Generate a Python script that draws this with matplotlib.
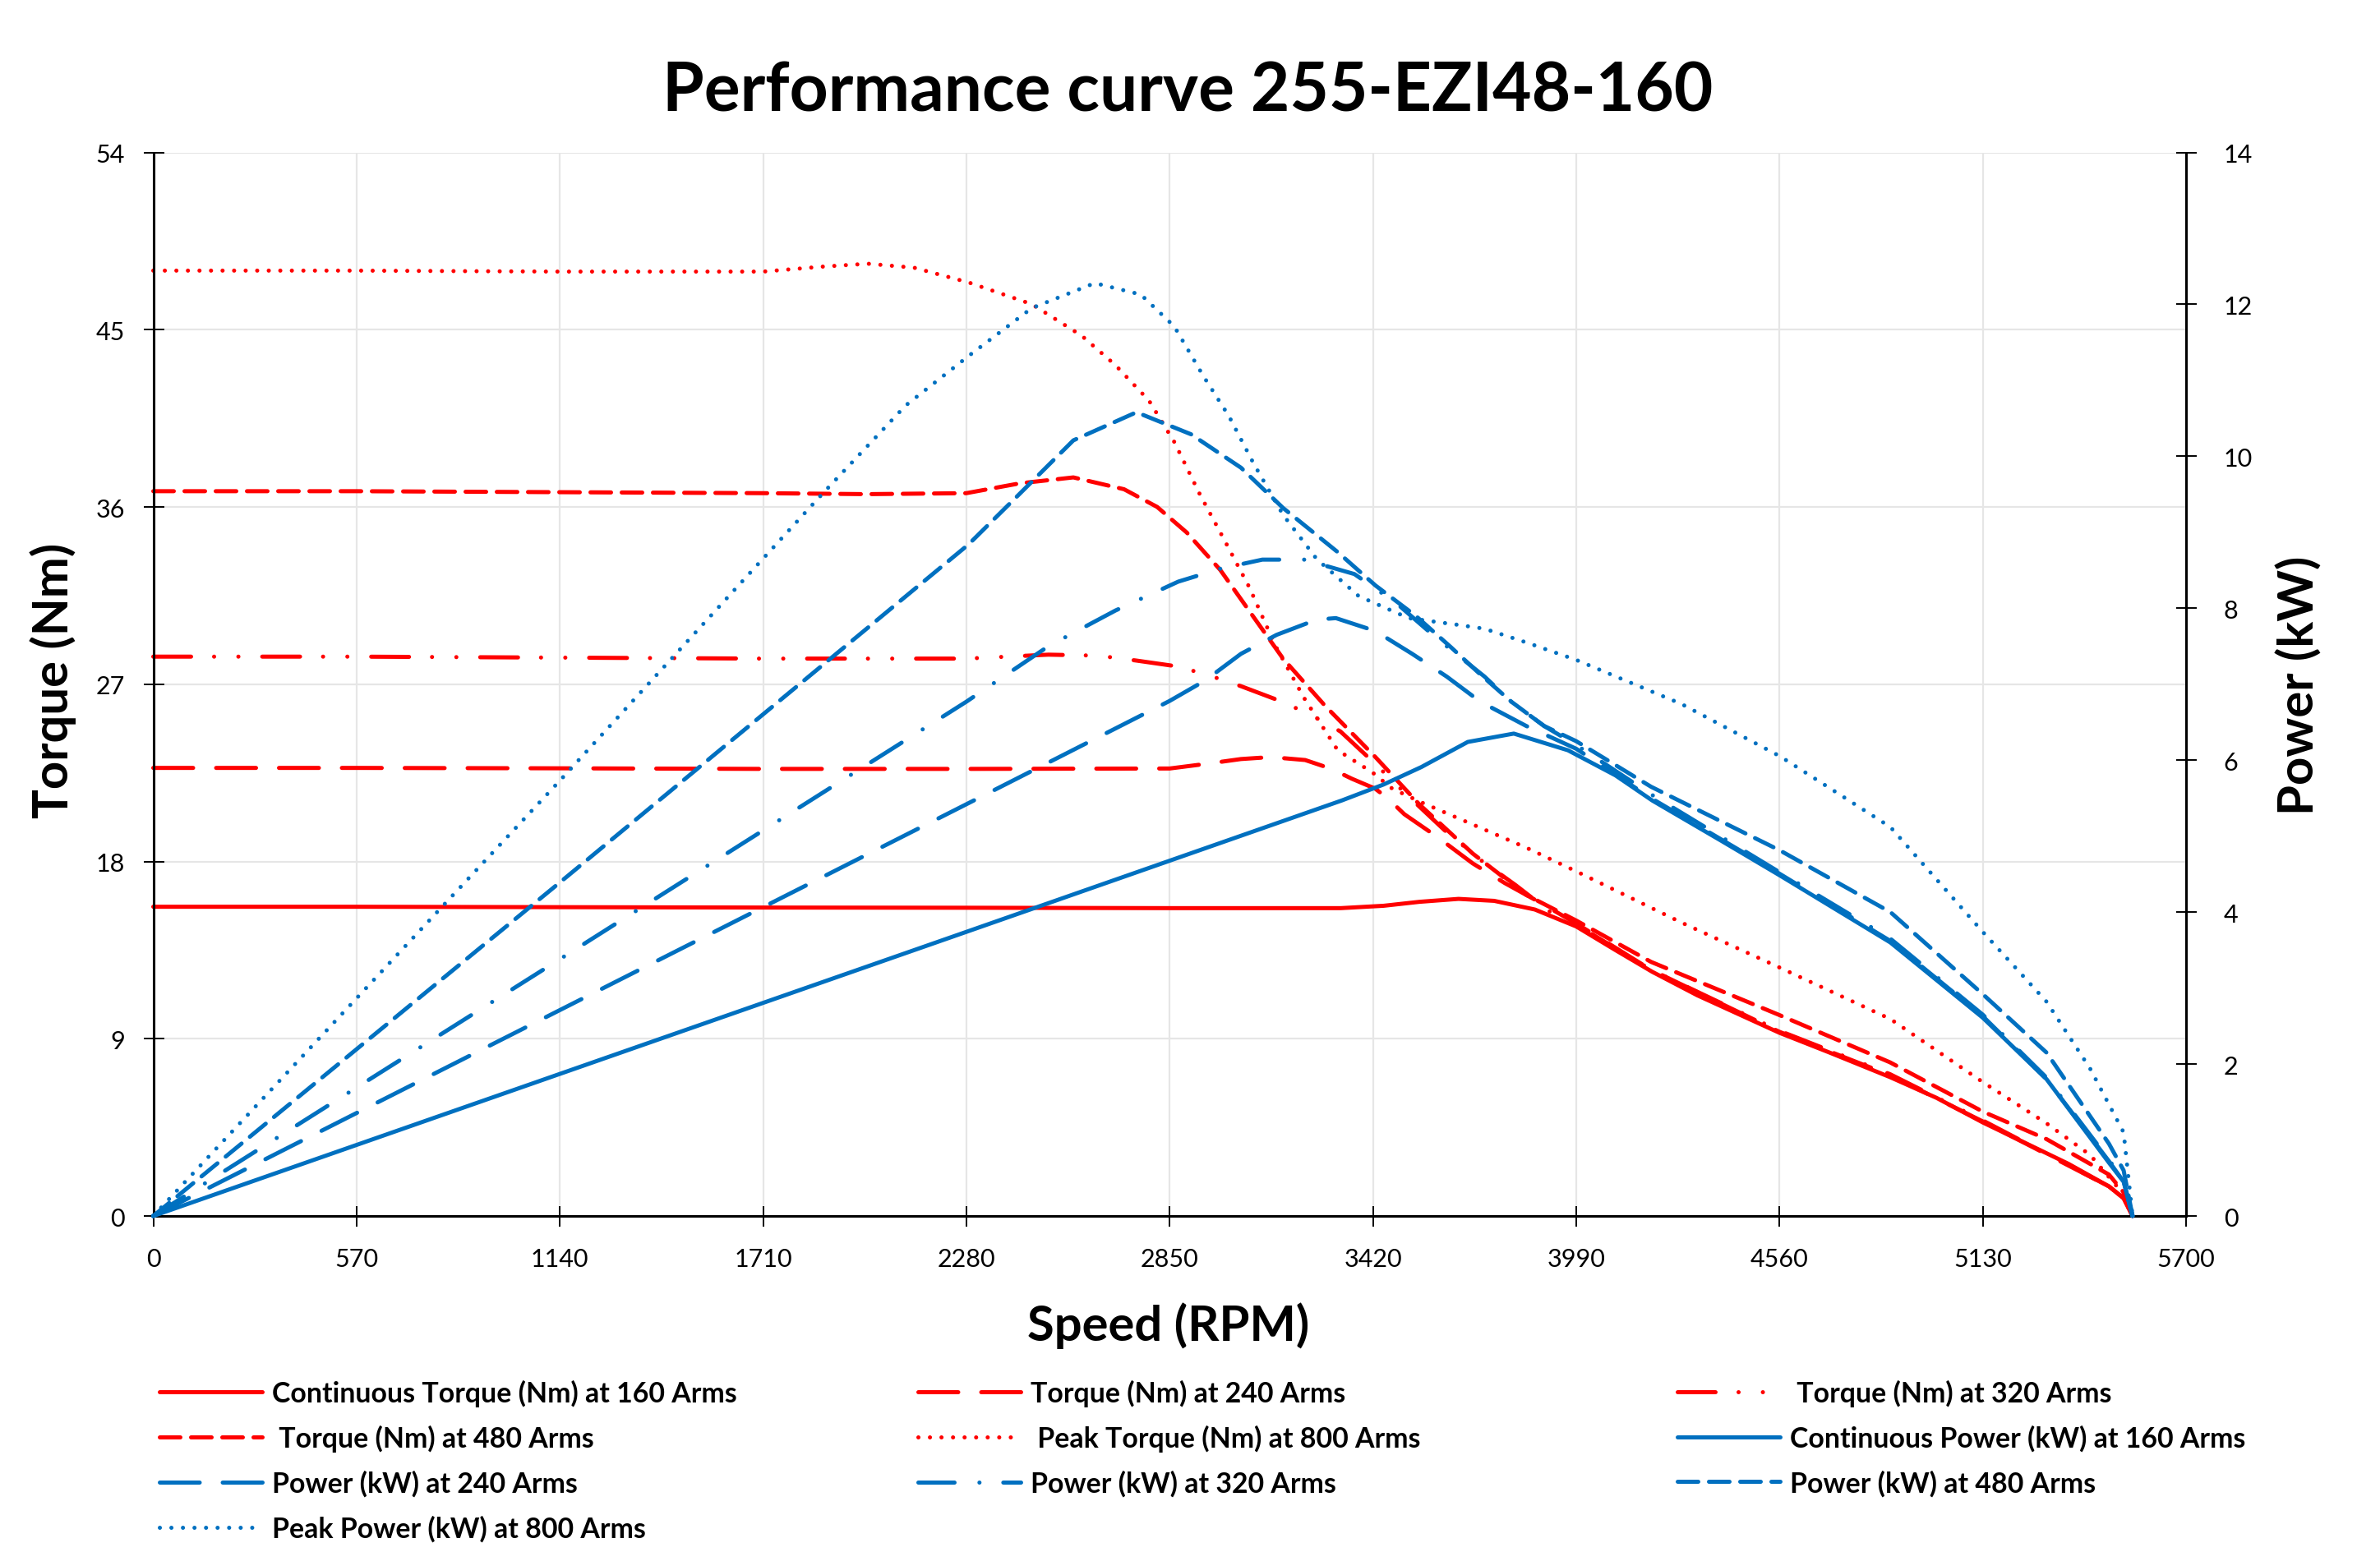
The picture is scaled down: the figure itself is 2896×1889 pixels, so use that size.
import matplotlib
matplotlib.use("Agg")
import matplotlib.pyplot as plt

# speed (rpm) / torque (Nm)
rpm_t160 = [0, 570, 1140, 1710, 2280, 2850, 3330, 3450, 3550, 3660, 3760, 3874, 3990, 4100, 4203, 4330, 4560, 4700, 4870, 5000, 5130, 5250, 5370, 5484, 5525, 5550]
t160 = [15.7, 15.7, 15.68, 15.66, 15.65, 15.63, 15.63, 15.75, 15.95, 16.1, 16.0, 15.56, 14.7, 13.5, 12.4, 11.2, 9.3, 8.3, 7.05, 6.0, 4.75, 3.7, 2.65, 1.5, 0.9, 0.0]

rpm_t240 = [0, 570, 1140, 1710, 2280, 2850, 2950, 3050, 3133, 3230, 3304, 3361, 3426, 3462, 3508, 3604, 3700, 3790, 3890, 3990, 4200, 4560, 4870, 5130, 5484, 5525, 5550]
t240 = [22.75, 22.75, 22.73, 22.7, 22.7, 22.72, 22.95, 23.2, 23.3, 23.15, 22.7, 22.2, 21.7, 21.2, 20.4, 19.2, 17.9, 16.9, 15.9, 14.85, 12.5, 9.35, 7.15, 4.8, 1.5, 0.9, 0.0]

rpm_t320 = [0, 570, 1140, 1710, 2280, 2510, 2650, 2757, 2873, 2960, 3050, 3167, 3250, 3329, 3424, 3520, 3620, 3720, 3820, 3920, 3990, 4200, 4560, 4870, 5130, 5484, 5525, 5550]
t320 = [28.4, 28.4, 28.35, 28.3, 28.3, 28.5, 28.45, 28.2, 27.9, 27.45, 26.9, 26.1, 25.4, 24.6, 23.0, 21.3, 19.6, 18.1, 16.8, 15.4, 14.8, 12.5, 9.4, 7.2, 4.85, 1.5, 0.9, 0.0]

rpm_t480 = [0, 570, 1140, 1710, 2000, 2280, 2430, 2580, 2722, 2815, 2898, 2992, 3074, 3168, 3286, 3427, 3550, 3700, 3850, 3990, 4200, 4560, 4870, 5130, 5309, 5484, 5525, 5550]
t480 = [36.8, 36.8, 36.75, 36.7, 36.65, 36.7, 37.2, 37.5, 36.9, 36.0, 34.7, 32.8, 30.7, 28.3, 25.9, 23.3, 20.9, 18.4, 16.3, 15.0, 12.9, 10.2, 7.8, 5.3, 3.9, 2.1, 1.2, 0.0]

rpm_t800 = [0, 570, 1140, 1710, 1875, 2004, 2133, 2286, 2463, 2603, 2698, 2792, 2863, 2933, 3004, 3074, 3145, 3227, 3321, 3420, 3474, 3556, 3697, 3850, 3990, 4285, 4562, 4871, 5130, 5309, 5431, 5525, 5550]
t800 = [48.0, 48.0, 47.95, 47.95, 48.2, 48.35, 48.15, 47.4, 46.3, 44.7, 43.2, 41.4, 39.3, 36.7, 34.3, 31.9, 29.0, 26.3, 23.65, 22.5, 21.7, 21.0, 19.9, 18.7, 17.5, 14.9, 12.6, 10.0, 6.8, 4.7, 3.1, 1.1, 0.0]

# speed (rpm) / power (kW)
rpm_p160 = [0, 1140, 2280, 3333, 3450, 3556, 3686, 3815, 3967, 4100, 4203, 4400, 4562, 4871, 5130, 5309, 5484, 5525, 5550]
p160 = [0, 1.87, 3.74, 5.47, 5.68, 5.91, 6.24, 6.35, 6.13, 5.8, 5.47, 4.93, 4.48, 3.6, 2.61, 1.8, 0.70, 0.45, 0.0]

rpm_p240 = [0, 1140, 2280, 2850, 2950, 3050, 3150, 3262, 3316, 3427, 3530, 3627, 3721, 3850, 3990, 4200, 4562, 4871, 5130, 5309, 5484, 5525, 5550]
p240 = [0, 2.71, 5.42, 6.78, 7.05, 7.4, 7.65, 7.85, 7.87, 7.7, 7.4, 7.1, 6.77, 6.45, 6.15, 5.5, 4.5, 3.62, 2.63, 1.8, 0.72, 0.45, 0.0]

rpm_p320 = [0, 1140, 2280, 2510, 2698, 2874, 2992, 3110, 3227, 3368, 3485, 3600, 3733, 3808, 3900, 3990, 4200, 4562, 4871, 5130, 5309, 5484, 5525, 5550]
p320 = [0, 3.38, 6.77, 7.5, 7.97, 8.35, 8.52, 8.64, 8.64, 8.45, 8.07, 7.6, 7.1, 6.77, 6.45, 6.2, 5.55, 4.52, 3.65, 2.65, 1.82, 0.74, 0.46, 0.0]

rpm_p480 = [0, 1140, 2286, 2428, 2580, 2757, 2910, 3050, 3168, 3321, 3427, 3540, 3638, 3721, 3808, 3900, 3990, 4200, 4562, 4871, 5130, 5309, 5484, 5525, 5550]
p480 = [0, 4.39, 8.84, 9.5, 10.21, 10.58, 10.29, 9.85, 9.32, 8.74, 8.3, 7.9, 7.49, 7.13, 6.77, 6.45, 6.25, 5.65, 4.81, 4.0, 2.92, 2.15, 0.95, 0.6, 0.0]

rpm_p800 = [0, 1140, 1875, 2110, 2286, 2463, 2640, 2769, 2863, 2944, 3016, 3086, 3168, 3262, 3380, 3520, 3661, 3733, 3850, 3990, 4285, 4562, 4871, 5130, 5309, 5431, 5525, 5550]
p800 = [0, 5.73, 9.5, 10.67, 11.32, 11.95, 12.28, 12.13, 11.71, 11.06, 10.53, 9.9, 9.23, 8.65, 8.16, 7.87, 7.78, 7.73, 7.55, 7.32, 6.74, 6.05, 5.12, 3.74, 2.82, 1.94, 1.1, 0.0]

x_ticks = list(range(0, 5701, 570))
torque_ticks = list(range(0, 55, 9))
power_ticks = list(range(0, 15, 2))

RED = "#FF0000"
BLUE = "#0070C0"
FONT = ["Lato", "DejaVu Sans"]
LW = 3.6

solid = "-"
longdash = (0, (9.7, 5.6))
dashdotdot = (0, (9.2, 5.6, 0.01, 5.9, 0.01, 5.8))
shortdash = (0, (5.0, 2.6))
dotted = (0, (0.01, 2.8))
dashdot = (0, (8.8, 6.06, 0.01, 5.8))

plt.rcParams["font.family"] = FONT

fig = plt.figure(figsize=(28.96, 18.9), dpi=100)
ax = fig.add_axes([0.0644, 0.2164, 0.8541, 0.6849])
ax2 = ax.twinx()

def draw(a, x, y, color, ls, label):
    line, = a.plot(x, y, color=color, linestyle=ls, linewidth=LW, label=label,
                   dash_capstyle="round", solid_capstyle="round", clip_on=False)
    return line

h_t160 = draw(ax, rpm_t160, t160, RED, solid, "Continuous Torque (Nm) at 160 Arms")
h_t240 = draw(ax, rpm_t240, t240, RED, longdash, "Torque (Nm) at 240 Arms")
h_t320 = draw(ax, rpm_t320, t320, RED, dashdotdot, " Torque (Nm) at 320 Arms")
h_t480 = draw(ax, rpm_t480, t480, RED, shortdash, " Torque (Nm) at 480 Arms")
h_t800 = draw(ax, rpm_t800, t800, RED, dotted, " Peak Torque (Nm) at 800 Arms")
h_p160 = draw(ax2, rpm_p160, p160, BLUE, solid, "Continuous Power (kW) at 160 Arms")
h_p240 = draw(ax2, rpm_p240, p240, BLUE, longdash, "Power (kW) at 240 Arms")
h_p320 = draw(ax2, rpm_p320, p320, BLUE, dashdot, "Power (kW) at 320 Arms")
h_p480 = draw(ax2, rpm_p480, p480, BLUE, shortdash, "Power (kW) at 480 Arms")
h_p800 = draw(ax2, rpm_p800, p800, BLUE, dotted, "Peak Power (kW) at 800 Arms")

ax.set_xlim(0, 5700)
ax.set_ylim(0, 54)
ax2.set_ylim(0, 14)
ax.set_xticks(x_ticks)
ax.set_yticks(torque_ticks)
ax2.set_yticks(power_ticks)

ax.grid(True, color="#e6e6e6", linewidth=1.6)
ax.set_axisbelow(True)

for a in (ax, ax2):
    a.spines["top"].set_visible(False)
    for s in ("left", "bottom", "right"):
        a.spines[s].set_linewidth(2.2)
ax.spines["right"].set_visible(False)
ax2.spines["left"].set_visible(False)
ax2.spines["bottom"].set_visible(False)

ax.tick_params(axis="x", direction="inout", length=18, width=1.4, labelsize=22, pad=18)
ax.tick_params(axis="y", direction="inout", length=18, width=1.4, labelsize=22, pad=16)
ax2.tick_params(axis="y", direction="inout", length=18, width=1.4, labelsize=22, pad=24)

fig.text(1445 / 2896, 1 - 112 / 1890, "Performance curve 255-EZI48-160",
         ha="center", va="center", fontsize=59, fontweight="bold")
fig.text(1422 / 2896, 1 - 1614 / 1890, "Speed (RPM)",
         ha="center", va="center", fontsize=43, fontweight="bold")
fig.text(65 / 2896, 1 - 828 / 1890, "Torque (Nm)", rotation=90,
         ha="center", va="center", fontsize=43, fontweight="bold")
fig.text(2798 / 2896, 1 - 834 / 1890, "Power (kW)", rotation=90,
         ha="center", va="center", fontsize=43, fontweight="bold")

columns = [
    [h_t160, h_t480, h_p240, h_p800],
    [h_t240, h_t800, h_p320],
    [h_t320, h_p160, h_p480],
]
col_x = [194 / 2896, 1117 / 2896, 2041 / 2896]
for hs, x in zip(columns, col_x):
    fig.legend(hs, [h.get_label() for h in hs], loc="upper left",
               bbox_to_anchor=(x, 1 - 1680 / 1890), frameon=False,
               borderaxespad=0, borderpad=0, handlelength=3.7,
               handletextpad=0.33, labelspacing=0.65,
               prop={"weight": "bold", "size": 24.4})

fig.savefig("out.png", dpi=100)
